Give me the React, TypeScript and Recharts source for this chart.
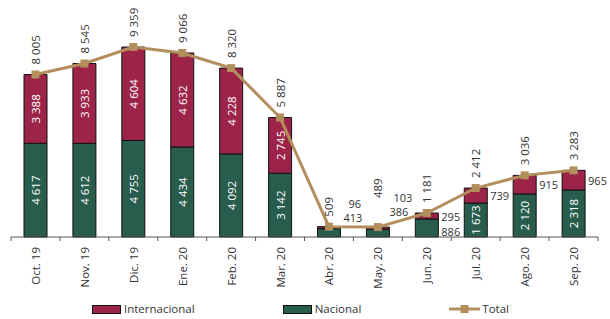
import { ComposedChart, Bar, Line, XAxis, YAxis, LabelList, Legend } from 'recharts'

const months = ['Oct. 19', 'Nov. 19', 'Dic. 19', 'Ene. 20', 'Feb. 20', 'Mar. 20', 'Abr. 20', 'May. 20', 'Jun. 20', 'Jul. 20', 'Ago. 20', 'Sep. 20']
const nacional = [4617, 4612, 4755, 4434, 4092, 3142, 413, 386, 886, 1673, 2120, 2318]
const internacional = [3388, 3933, 4604, 4632, 4228, 2745, 96, 103, 295, 739, 915, 965]
const total = [8005, 8545, 9359, 9066, 8320, 5887, 509, 489, 1181, 2412, 3036, 3283]

const data = months.map((month, i) => ({
    month,
    nacional: nacional[i],
    internacional: internacional[i],
    total: total[i],
}))

// hand nudges for the crowded labels (Abr - Jun)
const intlNudge: Record<number, [number, number]> = { 6: [5, -24], 7: [1, -31], 8: [0, 0] }
const nacNudge: Record<number, [number, number]> = { 6: [0, -15], 7: [-3, -22], 8: [0, 3] }
const totalLift: Record<number, number> = { 7: 19 }

const RED = '#9D2449'
const GREEN = '#285C4D'
const GOLD = '#B38E5D'
const TEXT = '#333'
const FONT = '"Open Sans", sans-serif'

const W = 610
const H = 319
const M = { top: 34, right: 12, left: 11, bottom: 3 }
const BAND = (W - M.left - M.right) / months.length

const fmt = (v: number) => String(v).replace(/\B(?=(\d{3})+(?!\d))/g, ' ')

const segmentLabel = (nudge: Record<number, [number, number]>) => (p: any) => {
    const { x, y, width, height, value, index } = p
    if (value >= 1000) {
        const cx = x + width / 2
        const cy = y + height / 2
        return (
            <text x={cx} y={cy} transform={`rotate(-90 ${cx} ${cy})`} textAnchor="middle"
                dominantBaseline="central" fill="#fff" fontSize={11.5} fontFamily={FONT}>
                {fmt(value)}
            </text>
        )
    }
    const [dx, dy] = nudge[index] ?? [0, 0]
    return (
        <text x={x + width + 3 + dx} y={y + height / 2 + dy} dominantBaseline="central"
            fill={TEXT} fontSize={11} fontFamily={FONT}>
            {fmt(value)}
        </text>
    )
}

const totalLabel = (p: any) => {
    const { x, y, value, index } = p
    const ty = y - 10 - (totalLift[index] ?? 0)
    return (
        <text x={x} y={ty} transform={`rotate(-90 ${x} ${ty})`} textAnchor="start"
            dominantBaseline="central" fill={TEXT} fontSize={11.5} fontFamily={FONT}>
            {fmt(value)}
        </text>
    )
}

const MonthTick = (p: any) => {
    const { x, y, payload, index } = p
    const left = x - BAND / 2
    return (
        <g>
            <line x1={left} x2={left} y1={y} y2={y + 4} stroke="#555" />
            {index === months.length - 1 && (
                <line x1={x + BAND / 2} x2={x + BAND / 2} y1={y} y2={y + 4} stroke="#555" />
            )}
            <text x={x} y={y + 10} transform={`rotate(-90 ${x} ${y + 10})`} textAnchor="end"
                dominantBaseline="central" fill={TEXT} fontSize={11.5} fontFamily={FONT}>
                {payload.value}
            </text>
        </g>
    )
}

const SquareDot = (p: any) => (
    <rect key={p.index} x={p.cx - 4} y={p.cy - 4} width={8} height={8} fill={GOLD} />
)

const renderLegend = () => (
    <div style={{ display: 'flex', justifyContent: 'center', gap: 88, fontFamily: FONT, fontSize: 11.5, color: TEXT, lineHeight: '14px', paddingRight: 8 }}>
        <span style={{ display: 'flex', alignItems: 'center' }}>
            <span style={{ width: 27, height: 7, background: RED, border: '1px solid #111', marginRight: 3 }} />
            Internacional
        </span>
        <span style={{ display: 'flex', alignItems: 'center' }}>
            <span style={{ width: 27, height: 7, background: GREEN, border: '1px solid #111', marginRight: 3 }} />
            Nacional
        </span>
        <span style={{ display: 'flex', alignItems: 'center' }}>
            <svg width={31} height={10} style={{ marginRight: 2 }}>
                <line x1={0} x2={31} y1={5} y2={5} stroke={GOLD} strokeWidth={3} />
                <rect x={11.5} y={1} width={8} height={8} fill={GOLD} />
            </svg>
            Total
        </span>
    </div>
)

export default function App() {
    return (
        <div style={{ position: 'absolute', left: 0, top: 0, background: '#fff' }}>
            <ComposedChart width={W} height={H} data={data} margin={M}>
                <XAxis dataKey="month" interval={0} tickLine={false} tickSize={0} tickMargin={0}
                    height={65} axisLine={{ stroke: '#555' }} tick={<MonthTick />} />
                <YAxis hide domain={[0, 10000]} />
                <Legend verticalAlign="bottom" height={14} content={renderLegend} />
                <Bar dataKey="nacional" stackId="a" fill={GREEN} stroke="#111" strokeWidth={1}
                    barSize={23} isAnimationActive={false}>
                    <LabelList dataKey="nacional" content={segmentLabel(nacNudge)} />
                </Bar>
                <Bar dataKey="internacional" stackId="a" fill={RED} stroke="#111" strokeWidth={1}
                    barSize={23} isAnimationActive={false}>
                    <LabelList dataKey="internacional" content={segmentLabel(intlNudge)} />
                </Bar>
                <Line dataKey="total" stroke={GOLD} strokeWidth={3} dot={SquareDot}
                    activeDot={false} isAnimationActive={false}>
                    <LabelList dataKey="total" content={totalLabel} />
                </Line>
            </ComposedChart>
        </div>
    )
}
